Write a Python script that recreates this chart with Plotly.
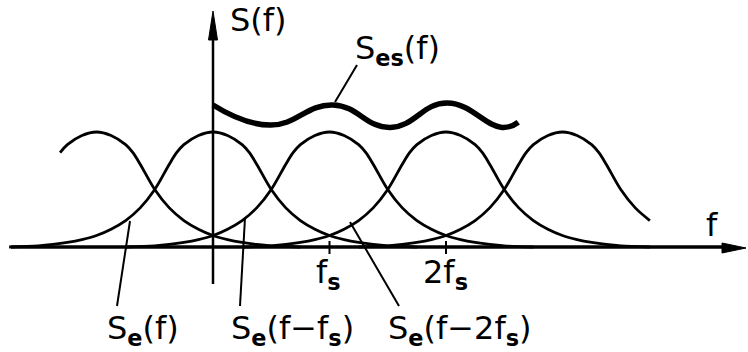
import plotly.graph_objects as go

# Sampling frequency (unit of the f axis) and the shifted spectrum copies
FS = 1.0
copy_index = [-1, 0, 1, 2, 3]
copy_from = [-0.3125, -1.75, -1.75, -1.75, -1.75]   # visible extent of each copy, in fs
copy_to = [1.75, 1.75, 1.75, 1.75, 0.80]

# One-sided shape of the baseband spectrum S_e: offset from centre (fs) -> level
shape_d = [0.0, 0.125, 0.25, 0.3125, 0.375, 0.5, 0.625, 0.75, 0.875, 1.0, 1.125, 1.25, 1.375, 1.5, 1.75]
shape_h = [1.0, 0.97, 0.89, 0.82, 0.72, 0.50, 0.34, 0.23, 0.155, 0.10, 0.065, 0.04, 0.022, 0.01, 0.0]

# Resulting sampled spectrum S_es (drawn above the copies): extrema and end points
ses_f = [0.0, 0.49, 1.03, 1.52, 2.01, 2.48, 2.62]
ses_h = [1.235, 1.06, 1.235, 1.04, 1.253, 1.04, 1.085]

W, H = 748, 352
X0, PXF = 213.0, 116.5     # pixel of f = 0, pixels per fs
Y0, PXH = 247.0, 115.0     # pixel of the baseline, pixels per unit level

XR = [(0 - X0) / PXF, (W - X0) / PXF]
YR = [(Y0 - H) / PXH, Y0 / PXH]


def fx(px):
    return (px - X0) / PXF


def hy(py):
    return (Y0 - py) / PXH


fig = go.Figure()

# Shifted copies S_e(f - k fs)
for k, a, b in zip(copy_index, copy_from, copy_to):
    pts = sorted({-d for d in shape_d} | set(shape_d))
    xs, ys = [], []
    for d in pts:
        if a - 1e-9 <= d <= b + 1e-9:
            xs.append(k * FS + d)
            ys.append(shape_h[shape_d.index(abs(d))])
    fig.add_trace(go.Scatter(x=xs, y=ys, mode="lines",
                             line=dict(color="black", width=2.8, shape="spline"),
                             hoverinfo="skip", showlegend=False))

# Sampled spectrum S_es(f)
fig.add_trace(go.Scatter(x=ses_f, y=ses_h, mode="lines",
                         line=dict(color="black", width=5.5, shape="spline", smoothing=1.3),
                         hoverinfo="skip", showlegend=False))

shapes = []
# f axis with arrow
shapes.append(dict(type="line", xref="x", yref="y", x0=fx(11), x1=fx(728), y0=0, y1=0,
                   line=dict(color="black", width=3.5)))
shapes.append(dict(type="path", xref="x", yref="y",
                   path=f"M {fx(746)},{hy(248)} L {fx(722)},{hy(243)} L {fx(722)},{hy(253)} Z",
                   fillcolor="black", line=dict(color="black", width=1)))
# S(f) axis with arrow
shapes.append(dict(type="line", xref="x", yref="y", x0=0, x1=0, y0=hy(284), y1=hy(36),
                   line=dict(color="black", width=2.5)))
shapes.append(dict(type="path", xref="x", yref="y",
                   path=f"M {fx(213)},{hy(11)} L {fx(208.5)},{hy(40)} L {fx(217.5)},{hy(40)} Z",
                   fillcolor="black", line=dict(color="black", width=1)))
# ticks at fs and 2 fs
for k in (1, 2):
    shapes.append(dict(type="line", xref="x", yref="y", x0=k * FS, x1=k * FS,
                       y0=hy(241), y1=hy(254), line=dict(color="black", width=2)))

# leader lines from the labels to the curves
leaders = [((357, 65), (335, 102)),
           ((117, 306), (130, 221)),
           ((240, 306), (245, 218)),
           ((399, 306), (350, 222))]
for (xa, ya), (xb, yb) in leaders:
    shapes.append(dict(type="line", xref="x", yref="y", x0=fx(xa), y0=hy(ya),
                       x1=fx(xb), y1=hy(yb), line=dict(color="black", width=2)))

FONT = dict(family="DejaVu Sans", size=32, color="black")


def label(text, px, py, anchor="left"):
    fig.add_annotation(x=fx(px), y=hy(py), xref="x", yref="y", text=text,
                       showarrow=False, xanchor=anchor, yanchor="top",
                       font=FONT, borderpad=0)


label("S(f)", 229, 0)
label("S<sub><b>es</b></sub>(f)", 354, 28)
label("S<sub><b>e</b></sub>(f)", 106, 308)
label("S<sub><b>e</b></sub>(f−f<sub><b>s</b></sub>)", 230, 308)
label("S<sub><b>e</b></sub>(f−2f<sub><b>s</b></sub>)", 387, 308)
label("f<sub><b>s</b></sub>", 315, 252)
label("2f<sub><b>s</b></sub>", 422, 252)
label("f", 705, 205)

fig.update_layout(
    width=W, height=H, margin=dict(l=0, r=0, t=0, b=0),
    paper_bgcolor="white", plot_bgcolor="white",
    xaxis=dict(range=XR, visible=False, fixedrange=True),
    yaxis=dict(range=YR, visible=False, fixedrange=True),
    shapes=shapes,
)

fig.write_html("out.html")
